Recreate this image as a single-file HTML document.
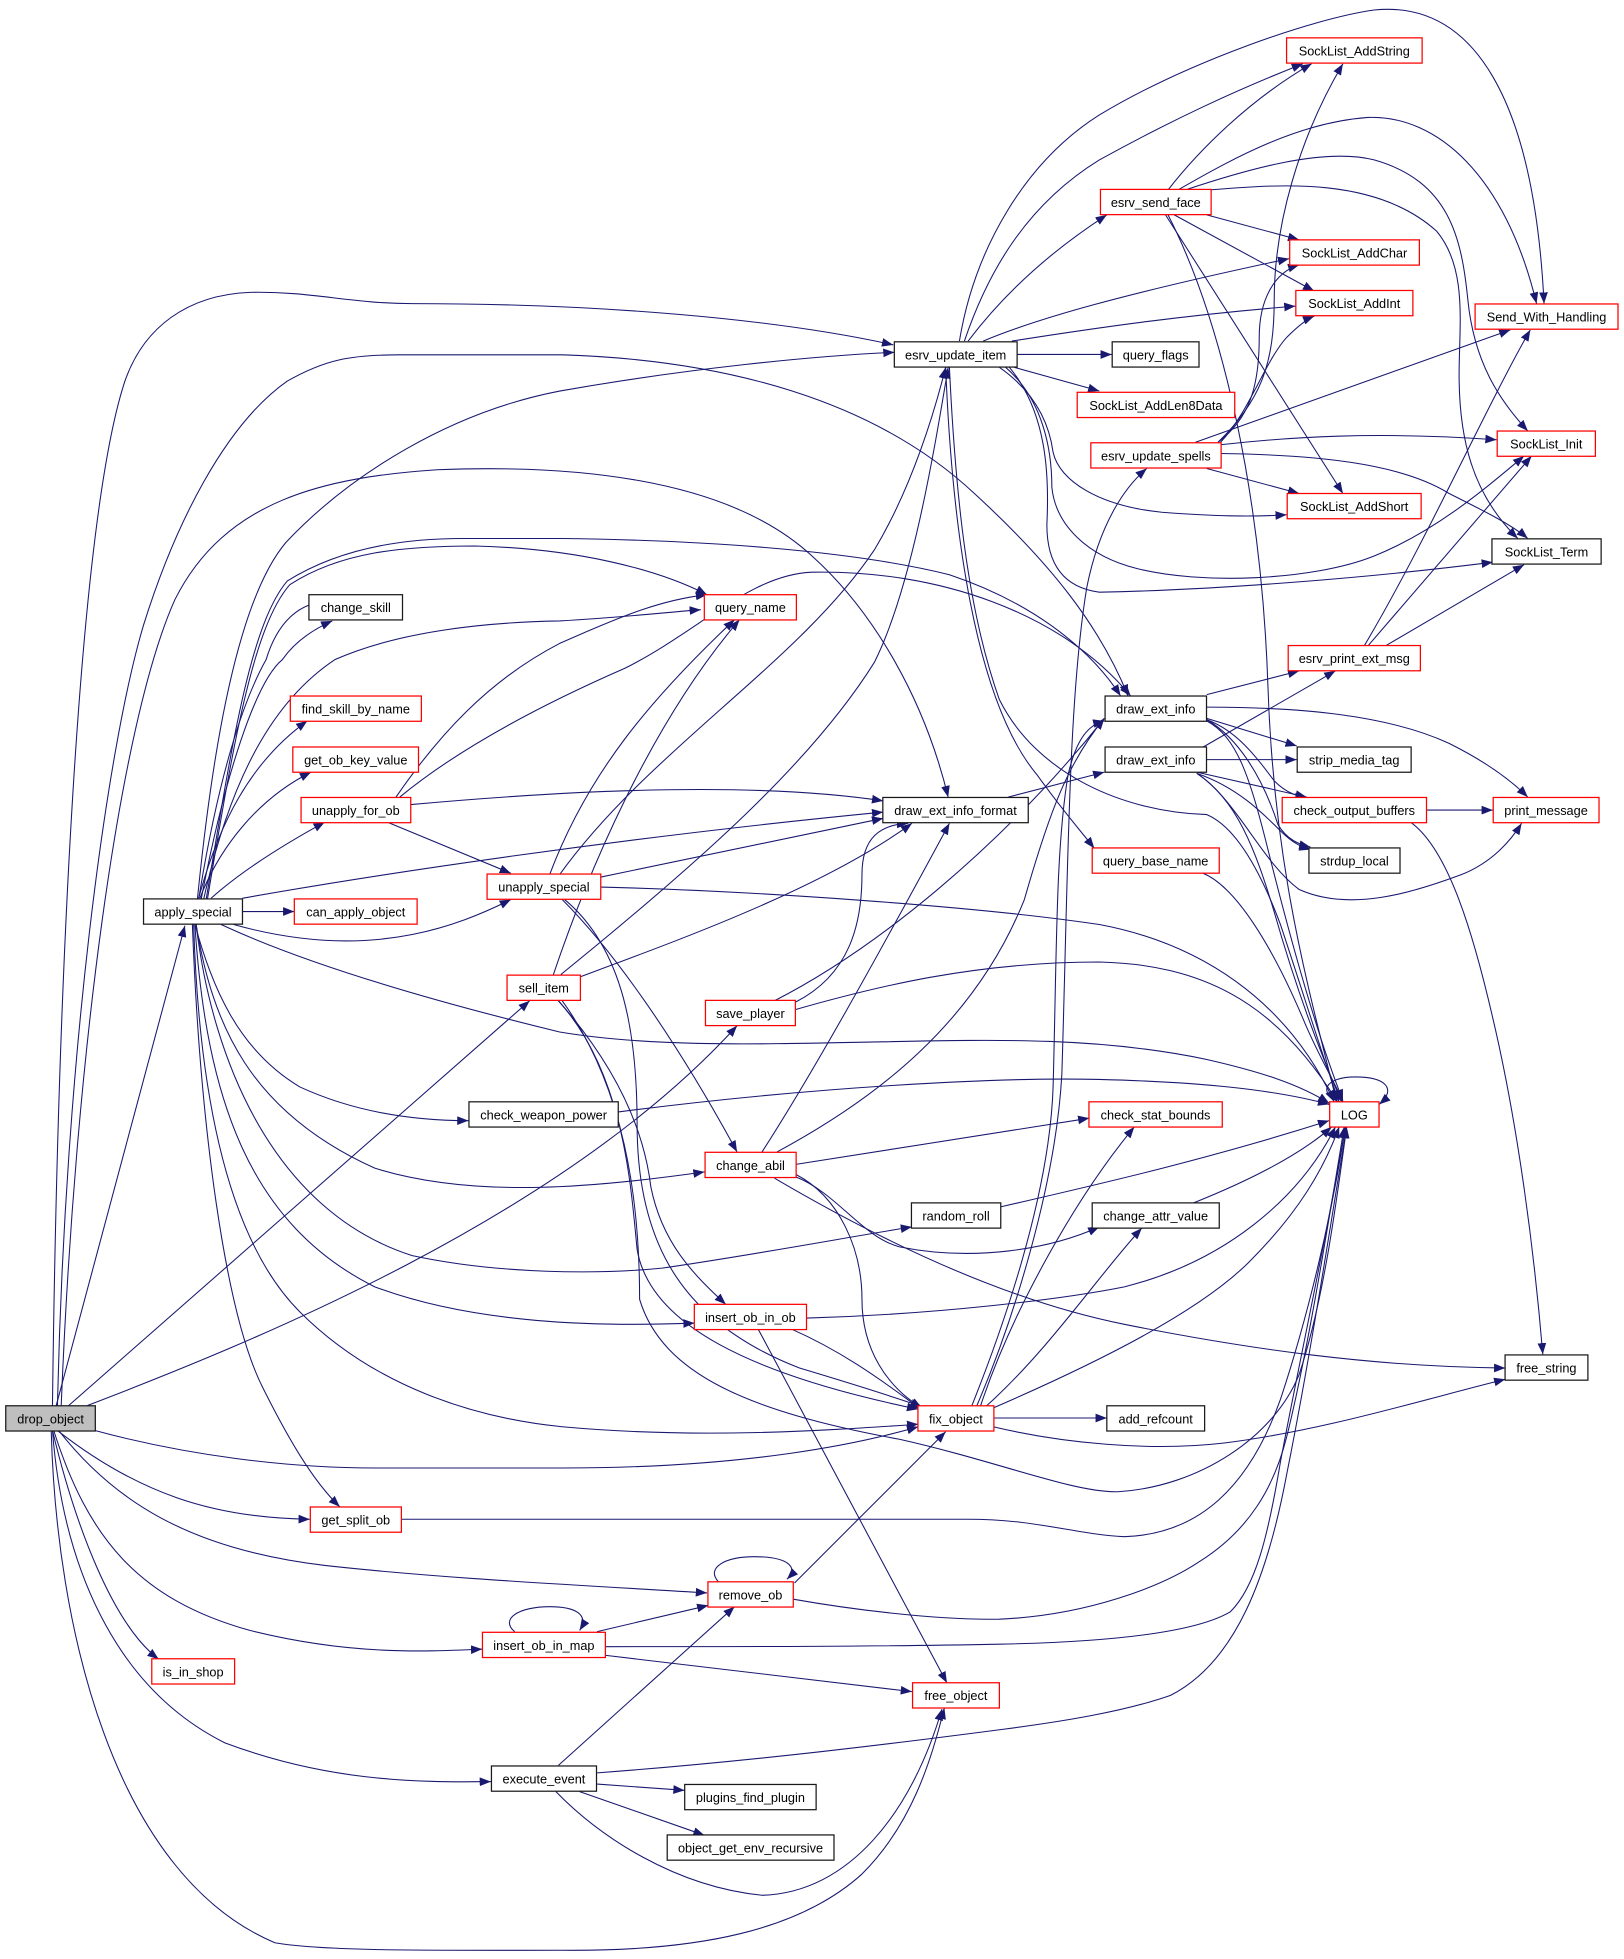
<!DOCTYPE html>
<html><head><meta charset="utf-8"><style>
html,body{margin:0;padding:0;background:#fff;}
svg{display:block;}
text{font-family:"Liberation Sans",Arial,sans-serif;font-size:10.2px;fill:#000;text-anchor:middle;}
.e{fill:none;stroke:#191970;stroke-width:0.85;marker-end:url(#a);}
.n{fill:none;stroke:#191970;stroke-width:0.85;}
.r{fill:#fff;stroke:#ff0000;stroke-width:1;}
.b{fill:#fff;stroke:#1a1a1a;stroke-width:1;}
</style></head><body>
<svg width="1624" height="1959" viewBox="0 0 1300 1568" preserveAspectRatio="none" xmlns="http://www.w3.org/2000/svg">
<defs><marker id="a" markerUnits="userSpaceOnUse" markerWidth="10" markerHeight="8" refX="9" refY="3.5" orient="auto"><path d="M0,0 L9,3.5 L0,7 z" fill="#191970"/></marker></defs>
<rect x="0" y="0" width="1300" height="1568" fill="#fff"/>
<g>
<path class="e" d="M42,1125 C46,800 62,420 100,305 C115,262 150,236 200,234 C250,233 280,243 330,243 C480,243 620,255 715,276"/>
<path class="e" d="M45,1125 L148,741"/>
<path class="e" d="M55,1125 L424,801"/>
<path class="e" d="M70,1125 C200,1075 450,975 590,821"/>
<path class="e" d="M46,1125 C52,850 85,600 115,500 C140,420 180,340 230,305 C260,288 280,284 320,284 L450,284 C580,288 700,320 780,395 C840,450 880,500 903,557"/>
<path class="e" d="M49,1125 C60,850 95,580 140,480 C180,400 260,382 350,376 C450,372 580,380 650,445 C700,490 740,560 759,638"/>
<path class="e" d="M76,1145 C150,1165 230,1175 300,1175 L450,1175 C600,1175 690,1155 735,1142"/>
<path class="e" d="M46,1145 C110,1195 170,1215 248,1216"/>
<path class="e" d="M47,1145 C90,1200 150,1240 260,1253 C350,1263 450,1268 566,1275"/>
<path class="e" d="M43,1145 C70,1230 110,1280 200,1305 C280,1325 340,1322 386,1320"/>
<path class="e" d="M42,1145 C60,1220 90,1300 127,1328"/>
<path class="e" d="M42,1145 C50,1250 90,1350 180,1395 C260,1425 330,1427 393,1426"/>
<path class="e" d="M41,1145 C45,1300 90,1500 220,1555 C260,1562 350,1561 450,1561 C560,1562 640,1545 690,1500 C730,1460 745,1410 756,1367"/>

<path class="e" d="M158,720 C170,600 190,480 229,434 C280,380 360,330 448,313 C550,295 650,285 716,282"/>
<path class="e" d="M165,720 C185,600 200,500 230,465 C270,440 320,431 370,431 L450,431 C600,433 700,445 760,460 C820,480 870,515 897,557"/>
<path class="e" d="M166,720 C186,600 202,502 232,468 C272,442 322,437 380,437 C460,439 525,455 566,476"/>
<path class="e" d="M163,720 C185,620 220,560 268,528 C320,505 390,498 448,497 C500,494 535,490 561,488"/>
<path class="n" d="M159,720 C175,620 195,560 213,528 C220,505 232,490 248,484"/>
<path class="e" d="M161,720 C180,620 205,545 226,528 C235,515 248,505 266,497"/>
<path class="e" d="M159,719 C175,660 200,610 246,577"/>
<path class="e" d="M160,719 C175,680 205,640 249,618"/>
<path class="e" d="M169,719 C190,700 220,680 260,658"/>
<path class="e" d="M194,729.6 L235.6,729.6"/>
<path class="e" d="M187,740 C230,752 280,758 330,748 C360,742 385,732 409,720"/>
<path class="e" d="M194,719 C300,700 500,670 707,650"/>
<path class="e" d="M177,740 C220,760 300,790 448,826 C520,838 600,836 700,834 C800,832 880,830 966,848 C1010,858 1040,868 1064,883"/>
<path class="e" d="M156,740 C170,790 190,840 240,870 C290,893 340,897 375,897"/>
<path class="e" d="M157,740 C170,820 200,890 300,935 C380,960 480,950 564,938"/>
<path class="e" d="M157,740 C170,850 220,970 330,1005 C400,1020 480,1020 530,1015 C600,1005 680,990 730,982"/>
<path class="e" d="M156,740 C165,880 200,980 300,1030 C380,1060 480,1062 556,1059"/>
<path class="e" d="M155,740 C160,900 190,1000 240,1050 C300,1110 380,1135 450,1142 C560,1152 660,1145 735,1140"/>
<path class="e" d="M154,740 C160,900 180,1050 210,1110 C230,1150 250,1185 272,1206"/>

<path class="e" d="M814,283.7 L890,283.7"/>
<path class="e" d="M812,294 L880,313"/>
<path class="e" d="M775,273 C800,240 835,205 886,172"/>
<path class="e" d="M772,273 C790,220 820,165 880,128 C940,95 990,72 1043,51"/>
<path class="e" d="M787,273 C830,255 900,235 1032,207"/>
<path class="e" d="M810,273 C880,262 950,252 1037,245"/>
<path class="e" d="M768,273 C780,200 820,130 880,92 C950,50 1050,15 1100,8 C1180,0 1228,80 1236,243"/>
<path class="e" d="M800,294 C830,315 840,340 843,362 C848,385 880,405 930,410 C970,413 1000,414 1030,412"/>
<path class="e" d="M805,294 C835,320 842,360 842,390 C845,420 870,445 910,455 C960,468 1050,465 1100,445 C1150,425 1190,390 1220,365"/>
<path class="e" d="M808,294 C838,330 840,380 838,420 C838,450 850,470 880,474 C980,472 1100,462 1195,450"/>
<path class="e" d="M760,294 C765,400 775,490 800,560 C830,620 900,650 966,652 C990,662 1010,700 1025,740 C1045,800 1060,850 1072,882"/>
<path class="e" d="M757,294 C762,420 780,560 830,620 C850,648 865,665 876,679"/>

<path class="e" d="M935,152 C960,120 1000,80 1050,51"/>
<path class="e" d="M966,172 L1040,192"/>
<path class="e" d="M940,172 L1052,233"/>
<path class="e" d="M933,172 L1075,395"/>
<path class="e" d="M943,152 C990,125 1040,98 1095,94 C1150,92 1205,140 1230,243"/>
<path class="e" d="M949,152 C1000,135 1060,118 1100,128 C1160,145 1170,190 1175,240 C1180,290 1200,320 1223,345"/>
<path class="e" d="M969,152 C1020,148 1100,140 1150,185 C1175,215 1168,260 1168,300 C1168,350 1178,395 1215,431"/>
<path class="e" d="M935,172 C980,260 1010,400 1015,550 C1020,700 1050,800 1070,882"/>

<path class="e" d="M975,354 C1010,320 1020,290 1020,240 C1020,180 1040,110 1075,51"/>
<path class="e" d="M975,354 C1000,335 1008,310 1008,270 C1008,240 1020,218 1040,212"/>
<path class="e" d="M977,354 C1000,330 1012,290 1030,270 C1040,260 1047,255 1052,253"/>
<path class="e" d="M957,354 L1209,264"/>
<path class="e" d="M977,356 C1030,350 1100,345 1198,352"/>
<path class="e" d="M966,375 L1040,395"/>
<path class="e" d="M977,363 C1050,364 1120,370 1160,395 C1190,410 1210,420 1223,431"/>

<path class="e" d="M1092,517 C1120,470 1150,410 1170,370 C1190,330 1210,290 1225,264"/>
<path class="e" d="M1095,517 L1226,365"/>
<path class="e" d="M1109,517 L1220,452"/>

<path class="e" d="M966,556 L1040,537"/>
<path class="e" d="M966,566 C1040,566 1110,572 1160,595 C1190,610 1210,625 1223,638"/>
<path class="e" d="M966,575 L1038,597"/>
<path class="e" d="M966,576 C990,585 1005,605 1020,625 C1030,635 1040,638 1046,638"/>
<path class="e" d="M966,576 C990,590 1010,620 1023,660 C1030,672 1040,676 1049,678"/>
<path class="e" d="M966,577 C990,590 1000,620 1015,680 C1035,760 1055,830 1075,881"/>

<path class="e" d="M963,598 L1069,537"/>
<path class="e" d="M966,608 L1038,608"/>
<path class="e" d="M958,618 L1046,638"/>
<path class="e" d="M958,619 C990,630 1010,650 1025,665 C1035,675 1042,678 1049,680"/>
<path class="e" d="M958,619 C990,640 1010,690 1040,712 C1080,730 1130,715 1170,700 C1195,690 1210,672 1218,659"/>
<path class="e" d="M958,619 C990,640 1005,680 1020,730 C1040,800 1060,850 1074,882"/>

<path class="e" d="M1142,648.4 L1195,648.4"/>
<path class="e" d="M1129,658 C1160,680 1180,750 1195,815 C1215,900 1228,1000 1235,1084"/>
<path class="e" d="M963,699 C990,710 1020,760 1045,820 C1058,850 1068,865 1075,882"/>
<path class="e" d="M807,638 L884,618"/>
<path class="e" d="M1072,882 C1055,875 1060,862 1085,862 C1110,862 1118,872 1104,884"/>

<path class="e" d="M317,638 C350,590 390,545 448,515 C500,492 530,480 566,476"/>
<path class="e" d="M320,638 C360,605 420,570 500,535 C560,505 600,460 650,458 C750,456 850,490 905,557"/>
<path class="e" d="M329,644 C450,633 600,625 707,641"/>
<path class="e" d="M310,658 L409,699"/>

<path class="e" d="M440,700 C470,620 520,560 588,496"/>
<path class="e" d="M448,700 C520,600 640,530 700,440 C730,390 748,330 757,294"/>
<path class="e" d="M481,702 L707,655"/>
<path class="e" d="M481,710 C600,713 780,725 880,740 C960,755 1030,800 1068,882"/>
<path class="e" d="M450,720 C490,760 540,830 590,922"/>
<path class="e" d="M452,720 C500,760 510,830 510,900 C510,1000 550,1060 640,1095 C690,1110 715,1118 738,1126"/>

<path class="e" d="M443,780 C470,700 520,580 592,496"/>
<path class="e" d="M449,780 C560,690 650,610 700,530 C730,470 748,360 759,294"/>
<path class="e" d="M464,782 C550,750 660,710 730,659"/>
<path class="e" d="M447,801 C490,850 515,900 521,950 C530,995 555,1020 581,1044"/>
<path class="e" d="M447,801 C500,860 505,950 510,1000 C520,1060 600,1100 735,1128"/>
<path class="e" d="M450,801 C500,870 512,960 512,1040 C530,1100 600,1130 720,1152 C800,1170 860,1195 895,1194 C960,1190 1020,1150 1040,1100 C1060,1040 1070,960 1078,902"/>

<path class="e" d="M620,801 C700,760 800,680 884,575"/>
<path class="e" d="M637,802 C680,780 690,740 690,700 C690,670 705,660 727,659"/>
<path class="e" d="M637,808 C700,790 780,770 880,770 C960,772 1020,800 1070,881"/>
<path class="e" d="M495,890 C650,870 800,862 880,864 C960,866 1020,872 1064,884"/>

<path class="e" d="M610,922 C650,860 700,770 760,659"/>
<path class="e" d="M622,922 C700,880 780,820 820,720 C840,650 855,610 884,575"/>
<path class="e" d="M637,932 L872,895"/>
<path class="e" d="M637,940 C672,958 690,1000 690,1040 C690,1080 710,1110 738,1127"/>
<path class="e" d="M637,942 C670,955 690,990 720,998 C780,1010 840,1000 880,982"/>
<path class="e" d="M620,943 C700,990 800,1040 900,1060 C1000,1080 1100,1094 1205,1095"/>

<path class="e" d="M801,966 C870,950 960,930 1064,897"/>
<path class="e" d="M955,963 C1000,945 1040,925 1066,902"/>

<path class="e" d="M646,1055 C750,1052 850,1040 900,1030 C980,1010 1040,960 1069,902"/>
<path class="e" d="M634,1064 C670,1080 700,1100 737,1128"/>
<path class="e" d="M607,1064 L758,1347"/>

<path class="e" d="M796,1135 L886,1135"/>
<path class="e" d="M778,1125 C800,1070 840,960 843,870 C846,760 845,680 855,620 C862,590 872,580 884,577"/>
<path class="e" d="M782,1125 C810,1060 845,950 850,860 C855,700 855,560 870,470 C880,420 900,390 918,375"/>
<path class="e" d="M785,1125 C810,1050 860,960 908,902"/>
<path class="e" d="M790,1125 C840,1080 880,1020 914,983"/>
<path class="e" d="M795,1127 C880,1090 960,1050 1000,1010 C1040,970 1060,935 1072,902"/>
<path class="e" d="M795,1142 C850,1155 920,1162 980,1155 C1060,1145 1140,1120 1205,1104"/>

<path class="e" d="M636,1267 L757,1146"/>
<path class="e" d="M575,1266 C565,1255 580,1246 604,1246 C630,1246 640,1254 630,1264"/>
<path class="e" d="M635,1280 C680,1288 750,1297 800,1296 C870,1293 930,1270 960,1250 C1000,1225 1020,1190 1030,1150 C1045,1090 1060,1000 1076,902"/>

<path class="e" d="M412,1306 C400,1296 415,1286 440,1286 C460,1286 472,1292 464,1305"/>
<path class="e" d="M478,1306 L567,1285"/>
<path class="e" d="M485,1325 L730,1354"/>
<path class="e" d="M485,1318 C600,1318 700,1318 800,1316 C900,1314 960,1305 985,1290 C1005,1270 1015,1230 1025,1170 C1040,1090 1062,990 1077,902"/>

<path class="e" d="M447,1413 L588,1286"/>
<path class="e" d="M478,1428 L548,1433"/>
<path class="e" d="M464,1434 L564,1469"/>
<path class="e" d="M445,1434 C480,1470 540,1510 610,1517 C680,1515 730,1450 754,1368"/>
<path class="e" d="M478,1419 C600,1410 720,1395 804,1384 C850,1378 900,1370 937,1357 C990,1330 1015,1260 1030,1180 C1050,1080 1065,980 1078,902"/>
<path class="e" d="M321,1216 L775,1216 C830,1216 860,1228 900,1230 C960,1228 1000,1190 1025,1120 C1045,1060 1065,980 1077,902"/>
</g>

<g>
<rect x="4.6" y="1125.2" width="71.7" height="20.2" fill="#bfbfbf" stroke="#1a1a1a" stroke-width="1"/><text x="40.5" y="1139.2">drop_object</text>
<rect class="b" x="114.9" y="719.5" width="79.2" height="20.2"/><text x="154.5" y="733.5">apply_special</text>
<rect class="b" x="247.3" y="476" width="74.9" height="20.2"/><text x="284.8" y="490">change_skill</text>
<rect class="r" x="232.4" y="557.1" width="104.9" height="20.2"/><text x="284.8" y="571.1">find_skill_by_name</text>
<rect class="r" x="234.4" y="597.9" width="100.6" height="20.2"/><text x="284.8" y="611.9">get_ob_key_value</text>
<rect class="r" x="241" y="638.3" width="87.8" height="20.2"/><text x="284.8" y="652.3">unapply_for_ob</text>
<rect class="r" x="235.6" y="719.5" width="98.3" height="20.2"/><text x="284.8" y="733.5">can_apply_object</text>
<rect class="r" x="563.8" y="476" width="73.7" height="20.2"/><text x="600.7" y="490">query_name</text>
<rect class="b" x="706.7" y="638.3" width="116.4" height="20.2"/><text x="764.9" y="652.3">draw_ext_info_format</text>
<rect class="r" x="389.9" y="699.6" width="91" height="20.2"/><text x="435.4" y="713.6">unapply_special</text>
<rect class="r" x="405.9" y="780.5" width="58.7" height="20.2"/><text x="435.3" y="794.5">sell_item</text>
<rect class="r" x="564.7" y="800.7" width="72" height="20.2"/><text x="600.7" y="814.7">save_player</text>
<rect class="b" x="375.4" y="881.9" width="119.5" height="20.2"/><text x="435.2" y="895.9">check_weapon_power</text>
<rect class="r" x="564.4" y="922.3" width="72.9" height="20.2"/><text x="600.8" y="936.3">change_abil</text>
<rect class="b" x="729.6" y="962.8" width="71.5" height="20.2"/><text x="765.3" y="976.8">random_roll</text>
<rect class="r" x="555.8" y="1044" width="89.8" height="20.2"/><text x="600.7" y="1058">insert_ob_in_ob</text>
<rect class="r" x="734.8" y="1125.2" width="60.8" height="20.2"/><text x="765.2" y="1139.2">fix_object</text>
<rect class="r" x="248.4" y="1206.2" width="72.9" height="20.2"/><text x="284.8" y="1220.2">get_split_ob</text>
<rect class="r" x="566.7" y="1266.1" width="68.3" height="20.2"/><text x="600.8" y="1280.1">remove_ob</text>
<rect class="r" x="386.2" y="1306.5" width="98.4" height="20.2"/><text x="435.4" y="1320.5">insert_ob_in_map</text>
<rect class="r" x="121.5" y="1327.7" width="66.3" height="20.2"/><text x="154.6" y="1341.7">is_in_shop</text>
<rect class="r" x="730.5" y="1346.9" width="69.5" height="20.2"/><text x="765.2" y="1360.9">free_object</text>
<rect class="b" x="393.4" y="1413.5" width="84.1" height="20.2"/><text x="435.4" y="1427.5">execute_event</text>
<rect class="b" x="548.1" y="1428.3" width="105.2" height="20.2"/><text x="600.7" y="1442.3">plugins_find_plugin</text>
<rect class="b" x="534.1" y="1468.7" width="133.5" height="20.2"/><text x="600.8" y="1482.7">object_get_env_recursive</text>
<rect class="b" x="715.9" y="273.6" width="98.3" height="20.2"/><text x="765" y="287.6">esrv_update_item</text>
<rect class="b" x="890.3" y="273.6" width="69.5" height="20.2"/><text x="925.1" y="287.6">query_flags</text>
<rect class="r" x="862.3" y="314" width="126.1" height="20.2"/><text x="925.3" y="328">SockList_AddLen8Data</text>
<rect class="r" x="873.2" y="354.4" width="104.3" height="20.2"/><text x="925.3" y="368.4">esrv_update_spells</text>
<rect class="r" x="880.9" y="151.6" width="88.6" height="20.2"/><text x="925.2" y="165.6">esrv_send_face</text>
<rect class="r" x="1029.9" y="30.3" width="108.5" height="20.2"/><text x="1084.1" y="44.3">SockList_AddString</text>
<rect class="r" x="1032.4" y="192" width="103.8" height="20.2"/><text x="1084.3" y="206">SockList_AddChar</text>
<rect class="r" x="1037.3" y="232.5" width="93.7" height="20.2"/><text x="1084.1" y="246.5">SockList_AddInt</text>
<rect class="r" x="1180.8" y="243.3" width="114.4" height="20.2"/><text x="1238" y="257.3">Send_With_Handling</text>
<rect class="r" x="1198.5" y="345" width="78.6" height="20.2"/><text x="1237.8" y="359">SockList_Init</text>
<rect class="r" x="1030.4" y="395" width="107.2" height="20.2"/><text x="1084" y="409">SockList_AddShort</text>
<rect class="b" x="1194.3" y="431.3" width="87.4" height="20.2"/><text x="1238" y="445.3">SockList_Term</text>
<rect class="r" x="1031.2" y="516.7" width="105.8" height="20.2"/><text x="1084.1" y="530.7">esrv_print_ext_msg</text>
<rect class="b" x="884.6" y="557.1" width="81.2" height="20.2"/><text x="925.2" y="571.1">draw_ext_info</text>
<rect class="b" x="884.6" y="597.9" width="81.2" height="20.2"/><text x="925.2" y="611.9">draw_ext_info</text>
<rect class="b" x="1038.4" y="597.9" width="91.2" height="20.2"/><text x="1084" y="611.9">strip_media_tag</text>
<rect class="r" x="1026.4" y="638.3" width="115.5" height="20.2"/><text x="1084.1" y="652.3">check_output_buffers</text>
<rect class="r" x="1195.3" y="638.3" width="84.7" height="20.2"/><text x="1237.6" y="652.3">print_message</text>
<rect class="r" x="874.3" y="678.7" width="101.7" height="20.2"/><text x="925.1" y="692.7">query_base_name</text>
<rect class="b" x="1047.8" y="678.7" width="72.9" height="20.2"/><text x="1084.2" y="692.7">strdup_local</text>
<rect class="r" x="1064.4" y="881.9" width="39.5" height="20.2"/><text x="1084.1" y="895.9">LOG</text>
<rect class="r" x="871.7" y="881.9" width="106.7" height="20.2"/><text x="925" y="895.9">check_stat_bounds</text>
<rect class="b" x="874.3" y="962.8" width="101.7" height="20.2"/><text x="925.1" y="976.8">change_attr_value</text>
<rect class="b" x="886" y="1125.2" width="78.3" height="20.2"/><text x="925.1" y="1139.2">add_refcount</text>
<rect class="b" x="1204.8" y="1084.5" width="66.3" height="20.2"/><text x="1237.9" y="1098.5">free_string</text>
</g>
</svg>
</body></html>
